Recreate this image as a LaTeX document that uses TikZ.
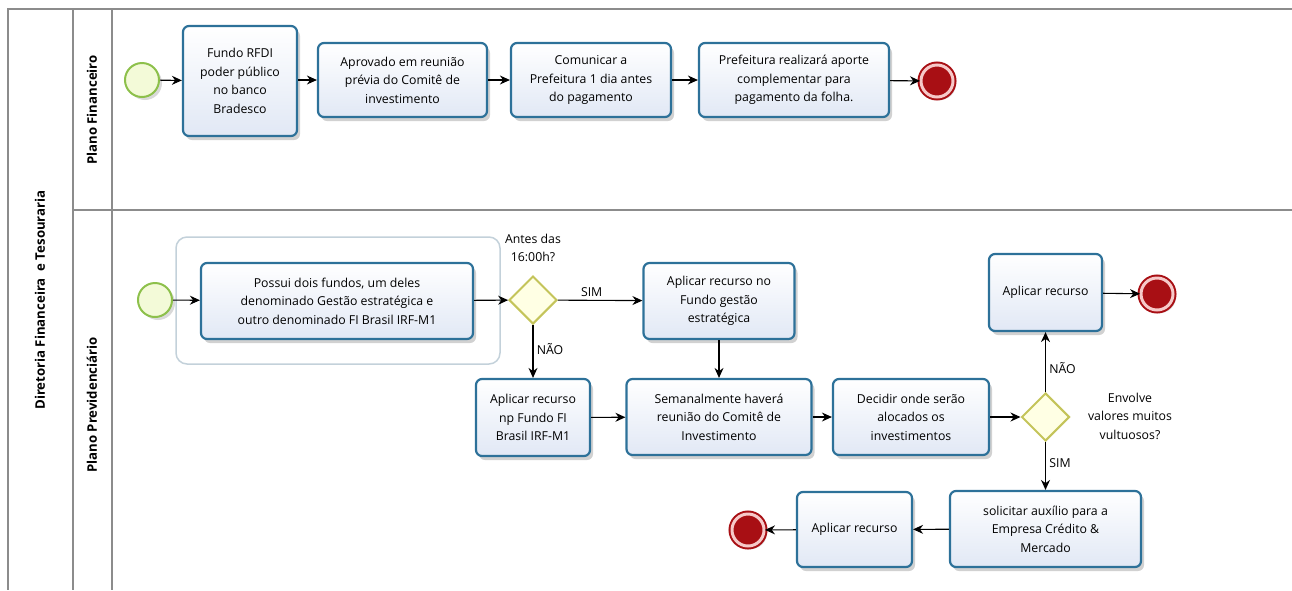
\documentclass[tikz,border=0pt]{standalone}
\usepackage{fontspec}
\setmainfont{Open Sans}
\usetikzlibrary{shapes.geometric,arrows.meta,shadows}
\definecolor{laneline}{HTML}{8C8C8C}
\definecolor{taskline}{HTML}{2D7199}
\definecolor{taskfill}{HTML}{E1E8F5}
\definecolor{startline}{HTML}{8DC04B}
\definecolor{startfill}{HTML}{F3FAD8}
\definecolor{endred}{HTML}{A80F14}
\definecolor{endpink}{HTML}{F6C9C9}
\definecolor{gwline}{HTML}{C4C45A}
\definecolor{gwfill}{HTML}{FFFFE4}
\definecolor{grpline}{HTML}{C3D1DA}
\tikzset{
  task/.style={rectangle, rounded corners=6pt, draw=taskline, line width=2.2pt,
    top color=white, bottom color=taskfill, align=center, inner sep=2pt,
    font=\fontsize{12.3}{18.5}\selectfont,
    drop shadow={shadow xshift=3pt, shadow yshift=-4pt, opacity=0.18, fill=black}},
  startev/.style={circle, minimum size=34pt, inner sep=0pt, draw=startline,
    fill=startfill, line width=2pt,
    drop shadow={shadow xshift=3pt, shadow yshift=-3pt, opacity=0.15, fill=black}},
  endev/.style={circle, minimum size=32pt, inner sep=0pt, draw=endred,
    fill=endred, line width=2pt, double=endpink, double distance=3pt,
    drop shadow={shadow xshift=3pt, shadow yshift=-3pt, opacity=0.15, fill=black}},
  gw/.style={diamond, minimum size=48pt, inner sep=0pt, aspect=1, draw=gwline,
    fill=gwfill, line width=2pt},
  lbl/.style={align=center, font=\fontsize{12.3}{18.5}\selectfont},
  flow/.style={line width=1.1pt, -{Stealth[length=10pt,width=9pt]}},
  lane/.style={draw=laneline, line width=1.5pt},
  lanetitle/.style={rotate=90, font=\fontsize{13.2}{15}\selectfont\bfseries}
}
\begin{document}
\begin{tikzpicture}[x=1pt,y=-1pt]
\useasboundingbox (0,0) rectangle (1292,590);
% pool and lanes
\draw[lane] (1292,9) -- (8,9) -- (8,590);
\draw[lane] (73,9) -- (73,590);
\draw[lane] (112,9) -- (112,590);
\draw[lane] (73,210) -- (1292,210);
\node[lanetitle] (pool) at (40,300) {Diretoria Financeira\ \ e Tesouraria};
\node[lanetitle] (laneF) at (92,110) {Plano Financeiro};
\node[lanetitle] (laneP) at (92,405) {Plano Previdenciário};

% Plano Financeiro
\node[startev] (s1) at (142,80) {};
\node[task, minimum width=114pt, minimum height=110pt] (rfdi) at (240,81) {Fundo RFDI\\poder público\\no banco\\Bradesco};
\node[task, minimum width=169pt, minimum height=74pt] (aprov) at (402.5,80) {Aprovado em reunião\\prévia do Comitê de\\investimento};
\node[task, minimum width=160pt, minimum height=74pt] (comun) at (591,80) {Comunicar a\\Prefeitura 1 dia antes\\do pagamento};
\node[task, minimum width=190pt, minimum height=74pt] (aporte) at (794,80) {Prefeitura realizará aporte\\complementar para\\pagamento da folha.};
\node[endev] (e1) at (937,81) {};
\draw[flow] (s1) -- (rfdi);
\draw[flow] (rfdi.east |- aprov) -- (aprov);
\draw[flow] (aprov) -- (comun);
\draw[flow] (comun) -- (aporte);
\draw[flow] (aporte) -- (e1);

% Plano Previdenciario
\draw[draw=grpline, line width=1.5pt, rounded corners=11pt] (176,237) rectangle (500,364);
\node[startev] (s2) at (155,300) {};
\node[task, minimum width=272pt, minimum height=76pt] (fundos) at (337,301) {Possui dois fundos, um deles\\denominado Gestão estratégica e\\outro denominado FI Brasil IRF-M1};
\node[gw] (g1) at (533,300) {};
\node[lbl] (q1) at (533,248) {Antes das\\16:00h?};
\node[task, minimum width=151pt, minimum height=76pt] (gestao) at (719,301) {Aplicar recurso no\\Fundo gestão\\estratégica};
\node[task, minimum width=114pt, minimum height=77pt] (irf) at (533,417.5) {Aplicar recurso\\np Fundo FI\\Brasil IRF-M1};
\node[task, minimum width=185pt, minimum height=76pt] (semanal) at (719,417) {Semanalmente haverá\\reunião do Comitê de\\Investimento};
\node[task, minimum width=156pt, minimum height=76pt] (decidir) at (911,417) {Decidir onde serão\\alocados os\\investimentos};
\node[gw] (g2) at (1045.5,417) {};
\node[lbl] (q2) at (1130,416) {Envolve\\valores muitos\\vultuosos?};
\node[task, minimum width=113pt, minimum height=77pt] (aplicA) at (1045.5,292.5) {Aplicar recurso};
\node[endev] (e2) at (1157,294) {};
\node[task, minimum width=191pt, minimum height=76pt] (auxilio) at (1045.5,529) {solicitar auxílio para a\\Empresa Crédito \&\\Mercado};
\node[task, minimum width=115pt, minimum height=75pt] (aplicB) at (854.5,529.5) {Aplicar recurso};
\node[endev] (e3) at (748,530) {};

\draw[flow] (s2) -- (fundos);
\draw[flow] (fundos) -- (g1);
\draw[flow] (g1) -- node[lbl, above, pos=0.4] (sim1) {SIM} (gestao);
\draw[flow] (g1) -- node[lbl, right, pos=0.45] (nao1) {NÃO} (irf);
\draw[flow] (gestao) -- (semanal);
\draw[flow] (irf) -- (semanal);
\draw[flow] (semanal) -- (decidir);
\draw[flow] (decidir) -- (g2);
\draw[flow] (g2) -- node[lbl, right, pos=0.4] (nao2) {NÃO} (aplicA);
\draw[flow] (aplicA) -- (e2);
\draw[flow] (g2) -- node[lbl, right, pos=0.45] (sim2) {SIM} (auxilio);
\draw[flow] (auxilio) -- (aplicB);
\draw[flow] (aplicB) -- (e3);
\end{tikzpicture}
\end{document}
